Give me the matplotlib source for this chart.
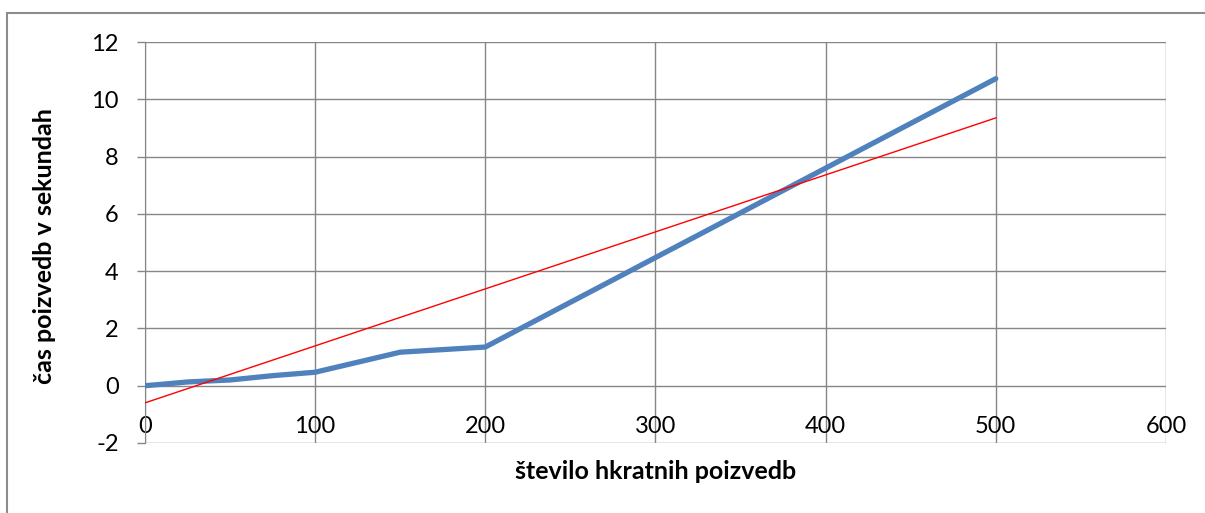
import matplotlib.pyplot as plt
from matplotlib.patches import Rectangle

plt.rcParams['font.family'] = ['Lato', 'DejaVu Sans']
plt.rcParams['axes.unicode_minus'] = False

# measured series (number of concurrent queries vs. time in seconds)
queries = [0, 10, 25, 50, 75, 100, 150, 200, 500]
seconds = [0.0, 0.05, 0.13, 0.2, 0.35, 0.47, 1.17, 1.35, 10.72]

# linear trend line as drawn in the chart
trend_x = [0, 500]
trend_y = [-0.6, 9.35]

x_ticks = [0, 100, 200, 300, 400, 500, 600]
y_ticks = [-2, 0, 2, 4, 6, 8, 10, 12]

fig = plt.figure(figsize=(12.05, 5.13), dpi=100)
ax = fig.add_axes([0.1203, 0.1365, 0.8473, 0.7816])

grid_color = '#868686'

ax.plot(queries, seconds, color='#4F81BD', linewidth=3.8, solid_capstyle='round', zorder=3)
ax.plot(trend_x, trend_y, color='#FF0000', linewidth=1.0, zorder=4)

ax.set_xlim(0, 600)
ax.set_ylim(-2, 12)
ax.set_xticks(x_ticks)
ax.set_yticks(y_ticks)
ax.grid(True, color=grid_color, linewidth=1.0)
ax.set_axisbelow(True)

# category axis crosses at y = 0, like the original
ax.spines['bottom'].set_position(('data', 0))
ax.spines['bottom'].set_visible(False)
ax.spines['top'].set_visible(False)
ax.spines['right'].set_visible(False)
ax.spines['left'].set_color(grid_color)

ax.tick_params(axis='x', length=0, pad=22, labelsize=17)
ax.tick_params(axis='y', length=6, width=1, color=grid_color, pad=13, labelsize=17)

ax.set_xlabel('število hkratnih poizvedb', fontsize=18, fontweight='bold', va='center')
ax.xaxis.set_label_coords(0.5, -0.07)
ax.set_ylabel('čas poizvedb v sekundah', fontsize=18, fontweight='bold', va='center')
ax.yaxis.set_label_coords(-0.098, 0.491)

# outer chart frame
fig.patches.append(Rectangle((0.006, -0.02), 1.0, 0.995, transform=fig.transFigure,
                             fill=False, edgecolor='#8C8C8C', linewidth=1.5))

fig.savefig('out.png', dpi=100)
